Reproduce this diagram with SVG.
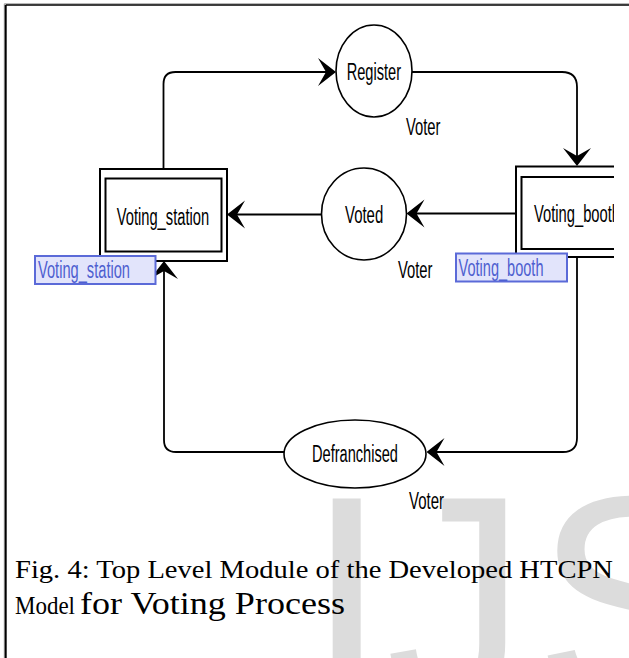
<svg xmlns="http://www.w3.org/2000/svg" width="629" height="658" viewBox="0 0 629 658">
  <style>
    .place { fill: #ffffff; stroke: #000000; stroke-width: 1.6; }
    .box { fill: #ffffff; stroke: #000000; stroke-width: 2; }
    .lbl { font-family: "Liberation Sans", Arial, sans-serif; font-size: 23px; fill: #000000; }
    .tag { fill: #e2e4fb; stroke: #5b6ad8; stroke-width: 2; }
    .tagtxt { font-family: "Liberation Sans", Arial, sans-serif; font-size: 23px; fill: #4e5fd0; }
    .arc { fill: none; stroke: #000000; stroke-width: 1.8; marker-end: url(#ah); }
    .cap { font-family: "Liberation Serif", "Times New Roman", serif; fill: #000000; }
    .wm { font-family: "Liberation Sans", Arial, sans-serif; font-size: 300px; fill: #dcdcdc; }
  </style>
  <defs>
    <marker id="ah" markerUnits="userSpaceOnUse" orient="auto" markerWidth="1" markerHeight="1" refX="0" refY="0" overflow="visible">
      <path d="M8,0 L-10,-14 L-2,0 L-10,14 Z" fill="#000000"/>
    </marker>
    <clipPath id="clipR">
      <rect x="0" y="0" width="614" height="658"/>
    </clipPath>
  </defs>

  <rect x="0" y="0" width="629" height="658" fill="#ffffff"/>

  <!-- watermark -->
  <g id="watermark">
    <text class="wm" x="305" y="705">I</text>
    <text class="wm" x="386" y="705" textLength="140" lengthAdjust="spacingAndGlyphs">J</text>
    <text class="wm" x="534" y="705">S</text>
  </g>

  <!-- frame -->
  <g id="frame">
    <line x1="4.3" y1="3.8" x2="629" y2="3.8" stroke="#9a9a9a" stroke-width="1"/>
    <line x1="4.3" y1="3.8" x2="4.3" y2="658" stroke="#9a9a9a" stroke-width="1"/>
    <line x1="5.7" y1="5" x2="629" y2="5" stroke="#000000" stroke-width="1.6"/>
    <line x1="5.7" y1="5" x2="5.7" y2="658" stroke="#000000" stroke-width="2"/>
  </g>

  <!-- connectors -->
  <g id="connectors">
    <path class="arc" d="M163.5,169 L163.5,84 Q163.5,72 175.5,72 L328,72"/>
    <path class="arc" d="M412,72 L562,72 Q577,72 577,87 L577,158"/>
    <path class="arc" d="M516,213.5 L414.5,213.5"/>
    <path class="arc" d="M322,214.5 L235,214.5"/>
    <path class="arc" d="M577,257 L577,438 Q577,452 563,452 L434.5,452"/>
    <path class="arc" d="M284,452 L176,452 Q164,452 164,440 L164,269"/>
  </g>

  <!-- nodes -->
  <g id="register">
    <ellipse class="place" cx="374" cy="71" rx="38" ry="46"/>
    <text class="lbl" x="346.7" y="80" textLength="54.4" lengthAdjust="spacingAndGlyphs">Register</text>
    <text class="lbl" x="406" y="135" textLength="34.5" lengthAdjust="spacingAndGlyphs">Voter</text>
  </g>

  <g id="voted">
    <ellipse class="place" cx="364" cy="214" rx="42.5" ry="46"/>
    <text class="lbl" x="345" y="223" textLength="38.2" lengthAdjust="spacingAndGlyphs">Voted</text>
    <text class="lbl" x="398" y="278" textLength="34.5" lengthAdjust="spacingAndGlyphs">Voter</text>
  </g>

  <g id="defranchised">
    <ellipse class="place" cx="355" cy="454" rx="71" ry="34"/>
    <text class="lbl" x="312" y="462" textLength="86" lengthAdjust="spacingAndGlyphs">Defranchised</text>
    <text class="lbl" x="409" y="509" textLength="35" lengthAdjust="spacingAndGlyphs">Voter</text>
  </g>

  <g id="voting_station">
    <rect class="box" x="100" y="169" width="127" height="92"/>
    <rect class="box" x="105.5" y="178.5" width="116" height="73"/>
    <text class="lbl" x="116.7" y="225" textLength="92.5" lengthAdjust="spacingAndGlyphs">Voting_station</text>
    <rect class="tag" x="35" y="256" width="120.5" height="28"/>
    <text class="tagtxt" x="38" y="278" textLength="92" lengthAdjust="spacingAndGlyphs">Voting_station</text>
  </g>

  <g id="voting_booth">
    <g clip-path="url(#clipR)">
      <rect class="box" x="516" y="166.5" width="130" height="90.5"/>
      <rect class="box" x="521.5" y="177" width="120" height="72"/>
      <text class="lbl" x="534" y="222" textLength="86" lengthAdjust="spacingAndGlyphs">Voting_booth</text>
    </g>
    <rect class="tag" x="456" y="253.5" width="111" height="28"/>
    <text class="tagtxt" x="458.5" y="276" textLength="85" lengthAdjust="spacingAndGlyphs">Voting_booth</text>
  </g>

  <!-- caption -->
  <g id="caption">
    <text class="cap" x="15" y="578" font-size="25" textLength="598" lengthAdjust="spacingAndGlyphs">Fig. 4: Top Level Module of the Developed HTCPN</text>
    <text class="cap" x="15" y="614" font-size="25" textLength="60" lengthAdjust="spacingAndGlyphs">Model</text>
    <text class="cap" x="80" y="614" font-size="31" textLength="265" lengthAdjust="spacingAndGlyphs">for Voting Process</text>
  </g>
</svg>
